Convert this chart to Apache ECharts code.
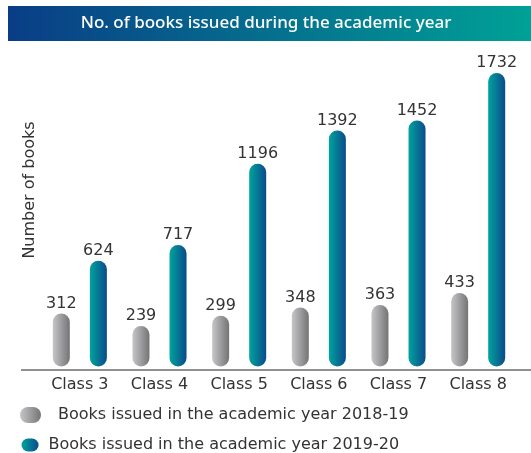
<!DOCTYPE html>
<html>
<head>
<meta charset="utf-8">
<script src="https://cdn.jsdelivr.net/npm/echarts@6/dist/echarts.min.js"></script>
<style>
  html, body { margin: 0; padding: 0; background: #fff; }
  #chart { width: 531px; height: 453px; }
</style>
</head>
<body>
<div id="chart"></div>
<script>
// Books issued per class, two academic years
const categories = ['Class 3', 'Class 4', 'Class 5', 'Class 6', 'Class 7', 'Class 8'];
const books2018 = [312, 239, 299, 348, 363, 433];
const books2019 = [624, 717, 1196, 1392, 1452, 1732];
const seriesNames = [
  'Books issued in the academic year 2018-19',
  'Books issued in the academic year 2019-20'
];
const titleText = 'No. of books issued during the academic year';
const yAxisTitle = 'Number of books';

const FONT = '"DejaVu Sans", sans-serif';
const TITLE_FONT = '"Noto Sans", sans-serif';
const TEXT = '#333333';

// pill-shaped legend marker
const PILL = 'path://M8,0 H13 A8,8 0 0,1 13,16 H8 A8,8 0 0,1 8,0 Z';

function hGrad(from, to) {
  return new echarts.graphic.LinearGradient(0, 0, 1, 0, [
    { offset: 0, color: from },
    { offset: 1, color: to }
  ]);
}

const grayFill = hGrad('#c6c6c9', '#747477');
const tealFill = hGrad('#00a39d', '#0b4b8b');

const chart = echarts.init(document.getElementById('chart'), null, { renderer: 'canvas' });

const label = {
  show: true,
  position: 'top',
  distance: 2,
  color: TEXT,
  fontSize: 16,
  fontFamily: FONT
};

chart.setOption({
  animation: false,
  grid: { left: 40, right: 13, top: 44.5, bottom: 86.5, containLabel: false },
  legend: [
    {
      data: [seriesNames[0]],
      left: 15, top: 402,
      itemWidth: 21, itemHeight: 16,
      icon: PILL,
      textStyle: { color: TEXT, fontSize: 16, fontFamily: FONT, padding: [0, 0, 0, 12] },
      selectedMode: false
    },
    {
      data: [seriesNames[1]],
      left: 16.5, top: 432,
      itemWidth: 19, itemHeight: 13,
      icon: PILL,
      textStyle: { color: TEXT, fontSize: 16, fontFamily: FONT, padding: [0, 0, 0, 4] },
      selectedMode: false
    }
  ],
  xAxis: {
    type: 'category',
    data: categories,
    axisLine: { show: false },
    axisTick: { show: false },
    axisLabel: { color: TEXT, fontSize: 16, fontFamily: FONT, margin: 10 }
  },
  yAxis: {
    type: 'value',
    min: 0,
    max: 1900,
    show: false
  },
  series: [
    {
      name: seriesNames[0],
      type: 'bar',
      data: books2018,
      barWidth: 17,
      barGap: '118%',
      itemStyle: { color: grayFill, borderRadius: 8.5 },
      label
    },
    {
      name: seriesNames[1],
      type: 'bar',
      data: books2019,
      barWidth: 17,
      itemStyle: { color: tealFill, borderRadius: 8.5 },
      label
    }
  ],
  graphic: [
    {
      type: 'rect',
      shape: { x: 8, y: 6, width: 523, height: 35 },
      style: { fill: hGrad('#093d86', '#00a196') },
      silent: true
    },
    {
      type: 'text',
      x: 266, y: 23.5,
      style: {
        text: titleText,
        fill: '#ffffff',
        fontSize: 17,
        fontWeight: 500,
        fontFamily: TITLE_FONT,
        align: 'center',
        verticalAlign: 'middle'
      },
      silent: true
    },
    {
      type: 'line',
      shape: { x1: 21, y1: 370, x2: 531, y2: 370 },
      style: { stroke: '#6b6b6b', lineWidth: 1.5 },
      silent: true
    },
    {
      type: 'text',
      x: 30, y: 190,
      rotation: Math.PI / 2,
      style: {
        text: yAxisTitle,
        fill: TEXT,
        fontSize: 16,
        fontFamily: FONT,
        align: 'center',
        verticalAlign: 'middle'
      },
      silent: true
    }
  ]
});
</script>
</body>
</html>
